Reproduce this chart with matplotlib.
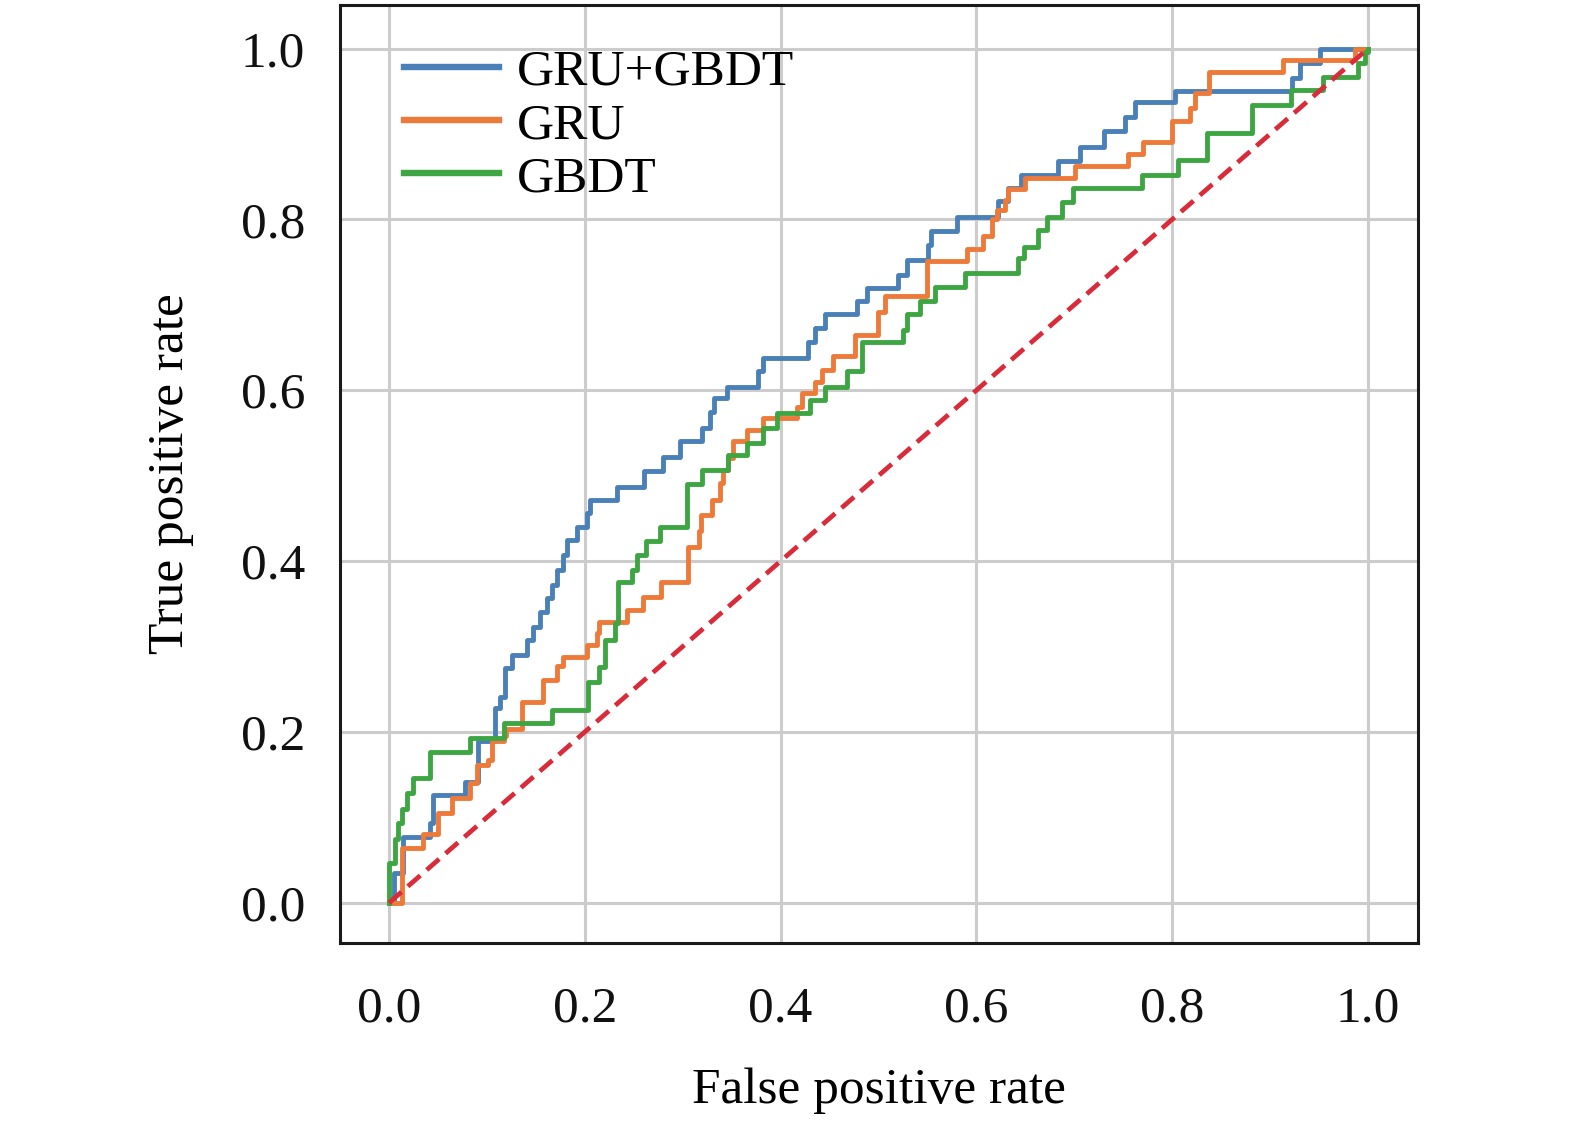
"""
ROC curves for GRU+GBDT, GRU and GBDT, values read off the figure.
"""
import matplotlib
matplotlib.use("Agg")
import matplotlib.pyplot as plt

# GRU+GBDT: at each fpr the curve steps up to tpr
fpr_gru_gbdt = [0.0, 0.005, 0.014, 0.042, 0.045, 0.078, 0.091, 0.108, 0.113, 0.118,
                0.126, 0.141, 0.147, 0.154, 0.161, 0.166, 0.172, 0.178, 0.182, 0.192,
                0.202, 0.205, 0.233, 0.260, 0.280, 0.297, 0.320, 0.328, 0.332, 0.345,
                0.377, 0.382, 0.428, 0.435, 0.445, 0.478, 0.488, 0.520, 0.529, 0.551,
                0.554, 0.580, 0.622, 0.632, 0.646, 0.683, 0.706, 0.730, 0.752, 0.762,
                0.803, 0.922, 0.930, 0.951, 1.0]
tpr_gru_gbdt = [0.0, 0.035, 0.077, 0.094, 0.126, 0.142, 0.190, 0.228, 0.241, 0.275,
                0.290, 0.308, 0.323, 0.341, 0.357, 0.372, 0.390, 0.407, 0.425, 0.440,
                0.456, 0.472, 0.487, 0.505, 0.522, 0.540, 0.556, 0.575, 0.591, 0.604,
                0.622, 0.638, 0.656, 0.673, 0.689, 0.704, 0.720, 0.735, 0.753, 0.770,
                0.786, 0.803, 0.821, 0.837, 0.852, 0.868, 0.885, 0.903, 0.920, 0.937,
                0.950, 0.966, 0.983, 1.0, 1.0]

fpr_gru = [0.0, 0.013, 0.035, 0.050, 0.064, 0.083, 0.090, 0.101, 0.105, 0.117,
           0.119, 0.136, 0.157, 0.172, 0.178, 0.202, 0.212, 0.215, 0.243, 0.259,
           0.278, 0.305, 0.317, 0.319, 0.330, 0.338, 0.341, 0.346, 0.351, 0.366,
           0.382, 0.417, 0.422, 0.435, 0.442, 0.453, 0.476, 0.499, 0.507, 0.550,
           0.590, 0.607, 0.616, 0.621, 0.629, 0.632, 0.650, 0.701, 0.755, 0.770,
           0.800, 0.818, 0.823, 0.838, 0.913, 0.987, 1.0]
tpr_gru = [0.0, 0.064, 0.080, 0.105, 0.123, 0.140, 0.161, 0.167, 0.189, 0.195,
           0.203, 0.235, 0.261, 0.277, 0.288, 0.302, 0.316, 0.329, 0.343, 0.358,
           0.375, 0.416, 0.435, 0.454, 0.472, 0.492, 0.507, 0.521, 0.540, 0.554,
           0.568, 0.580, 0.597, 0.610, 0.624, 0.640, 0.665, 0.692, 0.710, 0.751,
           0.765, 0.780, 0.800, 0.811, 0.823, 0.835, 0.849, 0.862, 0.876, 0.890,
           0.915, 0.930, 0.948, 0.973, 0.987, 1.0, 1.0]

fpr_gbdt = [0.0, 0.0, 0.006, 0.009, 0.013, 0.018, 0.025, 0.042, 0.083, 0.117,
            0.166, 0.203, 0.215, 0.221, 0.231, 0.234, 0.248, 0.253, 0.263, 0.277,
            0.304, 0.320, 0.346, 0.366, 0.382, 0.396, 0.430, 0.445, 0.468, 0.483,
            0.525, 0.529, 0.542, 0.558, 0.588, 0.642, 0.649, 0.663, 0.672, 0.687,
            0.699, 0.769, 0.806, 0.836, 0.881, 0.921, 0.954, 0.990, 0.997, 1.0]
tpr_gbdt = [0.0, 0.047, 0.075, 0.094, 0.110, 0.129, 0.146, 0.177, 0.193, 0.211,
            0.226, 0.259, 0.276, 0.308, 0.328, 0.375, 0.390, 0.407, 0.423, 0.440,
            0.490, 0.507, 0.524, 0.538, 0.556, 0.573, 0.589, 0.604, 0.622, 0.656,
            0.671, 0.689, 0.704, 0.721, 0.737, 0.755, 0.768, 0.788, 0.803, 0.820,
            0.837, 0.852, 0.870, 0.901, 0.934, 0.952, 0.967, 0.983, 0.996, 1.0]

ticks = [0.0, 0.2, 0.4, 0.6, 0.8, 1.0]


def main():
    plt.rcParams["font.family"] = ["Liberation Serif", "DejaVu Serif"]
    plt.rcParams["font.size"] = 37

    fig = plt.figure(figsize=(15.75, 11.25), dpi=100)
    ax = fig.add_axes([0.2159, 0.1618, 0.6844, 0.8338])

    lw = 3.5
    ax.plot(fpr_gru_gbdt, tpr_gru_gbdt, drawstyle="steps-post", color="#4a80b8",
            lw=lw, label="GRU+GBDT", zorder=3)
    ax.plot(fpr_gru, tpr_gru, drawstyle="steps-post", color="#ee7a3a",
            lw=lw, label="GRU", zorder=3)
    ax.plot(fpr_gbdt, tpr_gbdt, drawstyle="steps-post", color="#3da542",
            lw=lw, label="GBDT", zorder=3)
    ax.plot([0, 1], [0, 1], color="#d92b3a", lw=3.4,
            linestyle=(0, (3.5, 1.8)), zorder=4)

    ax.set_xlim(-0.05, 1.051)
    ax.set_ylim(-0.047, 1.051)
    ax.set_xticks(ticks)
    ax.set_yticks(ticks)
    ax.set_xticklabels([f"{t:.1f}" for t in ticks])
    ax.set_yticklabels([f"{t:.1f}" for t in ticks])
    ax.tick_params(length=0, colors="#111111")
    ax.tick_params(axis="x", pad=31)
    ax.tick_params(axis="y", pad=25)
    ax.grid(True, color="#cccccc", lw=2.2)
    ax.set_axisbelow(True)
    for sp in ax.spines.values():
        sp.set_color("#1a1a1a")
        sp.set_linewidth(2.2)

    ax.set_xlabel("False positive rate", labelpad=25)
    ax.set_ylabel("True positive rate", labelpad=34)

    leg = ax.legend(loc="upper left", frameon=False, handlelength=1.85,
                    handletextpad=0.35, labelspacing=0.12,
                    borderaxespad=0.0, bbox_to_anchor=(0.04, 0.975))
    for h in leg.legend_handles:
        h.set_linewidth(4.6)

    fig.savefig("out.png", dpi=100)
    plt.close(fig)


if __name__ == "__main__":
    main()
